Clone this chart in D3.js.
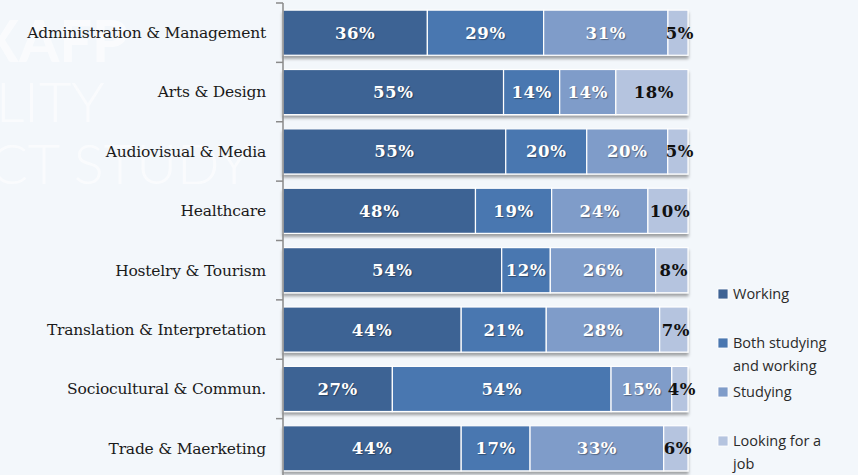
<!DOCTYPE html>
<html lang="en">
<head>
<meta charset="utf-8">
<title>Situation by field</title>
<style>
  body { margin: 0; background: #f3f7fb; }
  svg { display: block; }
</style>
</head>
<body>
<svg width="858" height="475"></svg>
<script src="https://d3js.org/d3.v7.min.js"></script>
<script>

    var categories = ["Administration & Management", "Arts & Design", "Audiovisual & Media",
        "Healthcare", "Hostelry & Tourism", "Translation & Interpretation",
        "Sociocultural & Commun.", "Trade & Maerketing"];
    var seriesNames = ["Working", "Both studying and working", "Studying", "Looking for a job"];
    var working  = [36, 55, 55, 48, 54, 44, 27, 44];
    var both     = [29, 14, 20, 19, 12, 21, 54, 17];
    var studying = [31, 14, 20, 24, 26, 28, 15, 33];
    var looking  = [5, 18, 5, 10, 8, 7, 4, 6];
    var colors = ["#3e6394", "#4a77b0", "#7f9cc9", "#b5c4df"];

    var svg = d3.select("svg"),
        width = +svg.attr("width"),
        height = +svg.attr("height");

    // very faint watermark behind the chart
    var wm = svg.append("g").attr("fill", "#ffffff").attr("opacity", 0.6)
        .attr("aria-hidden", "true");
    wm.append("text").attr("x", -20).attr("y", 62).attr("font-family", "Lato")
        .attr("font-weight", "bold").attr("font-size", 58).text("XAFP");
    wm.append("text").attr("x", -4).attr("y", 122).attr("font-family", "Lato")
        .attr("font-weight", 300).attr("font-size", 56).text("LITY");
    wm.append("text").attr("x", -10).attr("y", 184).attr("font-family", "Lato")
        .attr("font-weight", 300).attr("font-size", 56).text("CT STUDY");

    var defs = svg.append("defs");
    var shadow = defs.append("filter").attr("id", "shadow")
        .attr("x", "-5%").attr("y", "-20%").attr("width", "110%").attr("height", "150%");
    shadow.append("feDropShadow").attr("dx", 0).attr("dy", 3).attr("stdDeviation", 1.6)
        .attr("flood-color", "#000").attr("flood-opacity", 0.35);

    var rows = categories.map(function(c, i) {
        var vals = [working[i], both[i], studying[i], looking[i]];
        var total = d3.sum(vals), acc = 0;
        return {
            name: c,
            parts: vals.map(function(v, k) {
                var p = { key: k, value: v, x0: acc / total, x1: (acc + v) / total };
                acc += v;
                return p;
            })
        };
    });

    var x = d3.scaleLinear().domain([0, 1]).range([283, 688]);
    var y = d3.scaleBand().domain(categories).range([3, 478])
        .paddingInner(0.24).paddingOuter(0.12);

    var row = svg.selectAll("g.row").data(rows).enter().append("g")
        .attr("class", "row")
        .attr("transform", function(d) { return "translate(0," + y(d.name) + ")"; });

    row.append("g").attr("filter", "url(#shadow)")
        .selectAll("rect").data(function(d) { return d.parts; }).enter().append("rect")
        .attr("x", function(d) { return x(d.x0); })
        .attr("width", function(d) { return x(d.x1) - x(d.x0); })
        .attr("height", y.bandwidth())
        .attr("fill", function(d) { return colors[d.key]; })
        .attr("stroke", "#fff")
        .attr("stroke-width", 1.2);

    row.selectAll("text.val").data(function(d) { return d.parts; }).enter().append("text")
        .attr("class", "val")
        .attr("x", function(d) { return (x(d.x0) + x(d.x1)) / 2 + (d.key === 3 ? 2 : 0); })
        .attr("y", y.bandwidth() / 2)
        .attr("dy", "0.36em")
        .attr("text-anchor", "middle")
        .attr("font-family", "DejaVu Serif")
        .attr("font-weight", "bold")
        .attr("font-size", 16.5)
        .attr("letter-spacing", 0.6)
        .attr("fill", function(d) { return d.key === 3 ? "#111" : "#fff"; })
        .style("text-shadow", function(d) { return d.key === 3 ? "none" : "1px 1px 1px rgba(0,0,0,0.35)"; })
        .text(function(d) { return d.value + "%"; });

    // category axis
    var axis = svg.append("g").attr("transform", "translate(283,0)");
    axis.append("line").attr("y1", 3).attr("y2", 478)
        .attr("stroke", "#8a8a8a").attr("stroke-width", 1.5);
    axis.selectAll("line.tick").data(d3.range(categories.length + 1)).enter().append("line")
        .attr("class", "tick")
        .attr("x1", -7).attr("x2", 0)
        .attr("y1", function(i) { return 3 + i * y.step(); })
        .attr("y2", function(i) { return 3 + i * y.step(); })
        .attr("stroke", "#8a8a8a").attr("stroke-width", 1.5);

    svg.append("g").selectAll("text").data(categories).enter().append("text")
        .attr("x", 266)
        .attr("y", function(d) { return y(d) + y.bandwidth() / 2; })
        .attr("dy", "0.35em")
        .attr("text-anchor", "end")
        .attr("font-family", "DejaVu Serif")
        .attr("font-size", 15.5)
        .attr("letter-spacing", -0.2)
        .attr("fill", "#1a1a1a")
        .text(function(d) { return d; });

    // legend
    var legendLines = [["Working"], ["Both studying", "and working"], ["Studying"], ["Looking for a", "job"]];
    var legend = svg.append("g").selectAll("g").data(seriesNames).enter().append("g")
        .attr("transform", function(d, i) { return "translate(718," + (294 + i * 49) + ")"; });
    legend.append("rect")
        .attr("x", 0).attr("y", -5).attr("width", 10).attr("height", 10)
        .attr("fill", function(d, i) { return colors[i]; })
        .attr("stroke", "#fff").attr("stroke-width", 0.8);
    legend.append("text")
        .attr("x", 15)
        .attr("font-family", "Open Sans")
        .attr("font-size", 14.5)
        .attr("fill", "#2a2a2a")
        .selectAll("tspan").data(function(d, i) { return legendLines[i]; }).enter().append("tspan")
        .attr("x", 15)
        .attr("y", function(d, j) { return j * 23; })
        .attr("dy", "0.35em")
        .text(function(d) { return d; });

</script>
</body>
</html>
